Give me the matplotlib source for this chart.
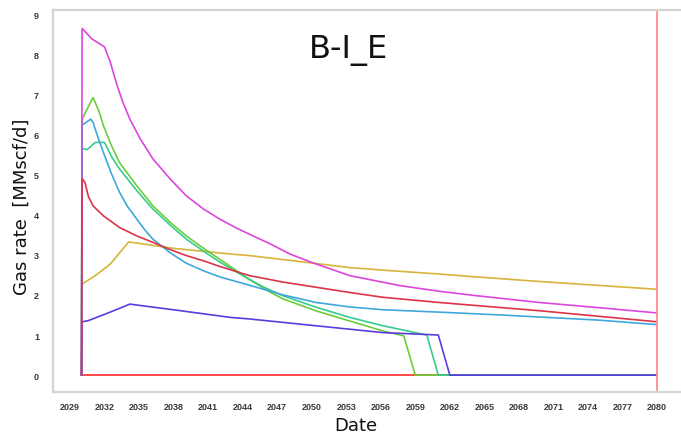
import matplotlib
matplotlib.use("Agg")
import matplotlib.pyplot as plt

# ---- data (decimal years, MMscf/d) ----
zero_x = [2030.0, 2080.0]
zero_y = [0.0, 0.0]

yellow_x = [2030.0, 2030.05, 2031.3, 2032.5, 2034.1, 2038.0, 2042.9, 2044.6, 2049.0,
            2053.3, 2057.0, 2061.1, 2063.75, 2070.0, 2080.0]
yellow_y = [0.0, 2.27, 2.50, 2.77, 3.32, 3.16, 3.02, 2.98, 2.83,
            2.68, 2.60, 2.52, 2.46, 2.33, 2.14]

green_x = [2030.0, 2030.05, 2031.0, 2031.5, 2031.9, 2032.6, 2033.3, 2034.8, 2036.2, 2037.7,
           2039.1, 2040.6, 2042.0, 2044.1, 2046.0, 2047.5, 2050.4, 2053.3, 2056.2,
           2058.0, 2059.0, 2080.0]
green_y = [0.0, 6.38, 6.92, 6.59, 6.22, 5.72, 5.30, 4.72, 4.22, 3.81,
           3.47, 3.16, 2.89, 2.48, 2.13, 1.90, 1.60, 1.35, 1.10,
           0.98, 0.0, 0.0]

teal_x = [2030.0, 2030.05, 2030.5, 2031.2, 2032.0, 2032.6, 2033.3, 2034.8, 2036.2, 2037.7,
          2039.1, 2040.6, 2042.0, 2044.6, 2046.0, 2047.5, 2050.4, 2053.3, 2056.2,
          2060.0, 2061.0, 2080.0]
teal_y = [0.0, 5.65, 5.62, 5.80, 5.80, 5.45, 5.14, 4.60, 4.14, 3.74,
          3.39, 3.09, 2.82, 2.38, 2.17, 1.98, 1.69, 1.44, 1.23,
          1.00, 0.0, 0.0]

blue_x = [2030.0, 2030.05, 2030.8, 2031.0, 2031.4, 2031.9, 2032.6, 2033.3, 2034.0, 2034.8,
          2035.5, 2036.2, 2037.7, 2039.1, 2040.6, 2042.0, 2044.6, 2047.5, 2050.4,
          2053.3, 2056.2, 2061.1, 2066.4, 2075.0, 2080.0]
blue_y = [0.0, 6.23, 6.38, 6.30, 5.95, 5.55, 5.02, 4.56, 4.20, 3.89,
          3.62, 3.39, 3.05, 2.79, 2.60, 2.45, 2.24, 2.00, 1.81,
          1.70, 1.63, 1.57, 1.50, 1.37, 1.26]

purple_x = [2030.0, 2030.05, 2030.6, 2032.4, 2034.2, 2038.5, 2042.9, 2044.6, 2050.4,
            2056.2, 2061.0, 2062.0, 2080.0]
purple_y = [0.0, 1.33, 1.36, 1.56, 1.77, 1.61, 1.44, 1.40, 1.23,
            1.06, 1.00, 0.0, 0.0]

magenta_x = [2030.0, 2030.05, 2030.9, 2032.0, 2032.5, 2033.1, 2033.6, 2034.2, 2035.1, 2036.2,
             2037.7, 2039.1, 2040.6, 2042.0, 2043.5, 2044.9, 2046.4, 2048.1, 2050.0,
             2053.3, 2057.7, 2061.1, 2064.0, 2069.8, 2075.0, 2080.0]
magenta_y = [0.0, 8.64, 8.38, 8.18, 7.80, 7.21, 6.80, 6.38, 5.89, 5.39,
             4.89, 4.47, 4.14, 3.89, 3.66, 3.47, 3.27, 3.02, 2.81,
             2.48, 2.23, 2.09, 1.99, 1.81, 1.68, 1.55]

red_x = [2030.0, 2030.05, 2030.3, 2030.6, 2031.0, 2031.9, 2033.3, 2034.8, 2036.2, 2037.7,
         2039.1, 2040.6, 2042.0, 2044.6, 2047.5, 2050.4, 2053.3, 2056.2, 2061.1,
         2070.0, 2080.0]
red_y = [0.0, 4.90, 4.80, 4.45, 4.22, 3.97, 3.68, 3.47, 3.31, 3.13,
         2.98, 2.85, 2.71, 2.48, 2.32, 2.19, 2.06, 1.94, 1.81,
         1.60, 1.33]

xtick_years = list(range(2029, 2081, 3))
ytick_vals = list(range(0, 10))
marker_year = 2080

title = "B-I_E"
xlabel = "Date"
ylabel = "Gas rate  [MMscf/d]"

# ---- figure ----
W, H = 681, 435
fig = plt.figure(figsize=(W / 100, H / 100), dpi=100)
ax_left_px, ax_right_px, ax_top_px, ax_bot_px = 53, 701, 11, 393
ax = fig.add_axes([ax_left_px / W, 1 - ax_bot_px / H,
                   (ax_right_px - ax_left_px) / W, (ax_bot_px - ax_top_px) / H])

lw = 1.2
ax.plot(zero_x, zero_y, color="#ff2a2a", lw=lw)
ax.plot(yellow_x, yellow_y, color="#d8b43a", lw=lw)
ax.plot(green_x, green_y, color="#6ccc3c", lw=lw)
ax.plot(teal_x, teal_y, color="#36cc8c", lw=lw)
ax.plot(blue_x, blue_y, color="#3ea8dc", lw=lw)
ax.plot(purple_x, purple_y, color="#5a3ce0", lw=lw)
ax.plot(magenta_x, magenta_y, color="#dc46dc", lw=lw)
ax.plot(red_x, red_y, color="#dc3448", lw=lw)

ax.axvline(marker_year, color="#ff8c8c", lw=1.3)

# 2029 label centred at x=70 px, 2080 at x=657 px
px_per_year = (657 - 70) / 51.0
ax.set_xlim(2029 - (70 - ax_left_px) / px_per_year, 2080 + (ax_right_px - 657) / px_per_year)
ax.set_ylim(-0.42, 9.1)
ax.set_xticks(xtick_years)
ax.set_xticklabels([str(y) for y in xtick_years])
ax.set_yticks(ytick_vals)
ax.set_yticklabels([str(v) for v in ytick_vals])
ax.tick_params(axis="both", length=0, labelsize=6.5, labelcolor="#3a3a3a")
ax.tick_params(axis="x", pad=7)
ax.tick_params(axis="y", pad=10)
for lab in ax.get_xticklabels() + ax.get_yticklabels():
    lab.set_fontfamily("Liberation Sans")
    lab.set_fontweight("bold")

for s in ["left", "top", "bottom"]:
    ax.spines[s].set_color("#d4d4d4")
    ax.spines[s].set_linewidth(1.6)
ax.spines["right"].set_visible(False)

fig.text(349 / W, 1 - 51 / H, title, ha="center", va="center", fontsize=23, color="#111111")
fig.text(356 / W, 1 - 426 / H, xlabel, ha="center", va="center", fontsize=13, color="#111111")
fig.text(22 / W, 1 - 207 / H, ylabel, ha="center", va="center", rotation=90, fontsize=13, color="#111111")

fig.savefig("out.png", dpi=100)
